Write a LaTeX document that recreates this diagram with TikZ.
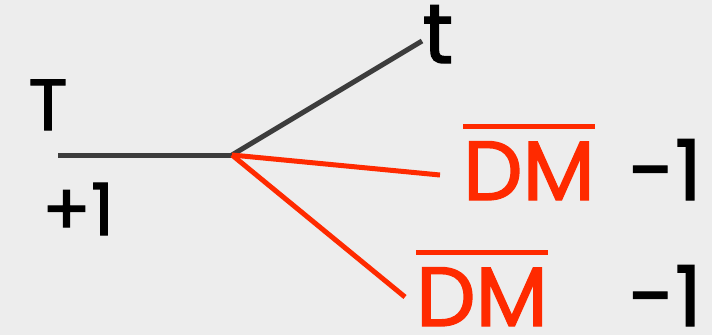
\documentclass[tikz,border=0pt]{standalone}
\usepackage{fontspec}
\setmainfont{Poppins}
\newfontface\chalk{Poppins}[FakeBold=1.6]
\usetikzlibrary{positioning}
\definecolor{paper}{HTML}{EDEDED}
\definecolor{ink}{HTML}{3C3C3C}
\definecolor{dmred}{HTML}{FF2A00}
% bar over a label
\newcommand{\barover}[1]{\setbox0\hbox{#1}\rlap{\rule[\dimexpr\ht0+12pt\relax]{\wd0}{5pt}}\box0}

\begin{document}
\begin{tikzpicture}[
    x=1pt, y=-1pt,
    lbl/.style={inner sep=0pt, font=\fontsize{72}{72}\chalk},
    big/.style={inner sep=0pt, font=\fontsize{84}{84}\chalk},
    sm/.style={line width=5pt, ink},
    dmline/.style={line width=5pt, dmred}
]
\fill[paper] (0,0) rectangle (712,335);
\useasboundingbox (0,0) rectangle (712,335);

\coordinate (in) at (58,155);
\coordinate (vtx) at (232,155);
\coordinate (tend) at (422,41);
\coordinate (dmend1) at (440,175);
\coordinate (dmend2) at (405,297);

\draw[sm] (in) -- (vtx);
\draw[sm] (vtx) -- (tend);
\draw[dmline] (vtx) -- (dmend1);
\draw[dmline] (vtx) -- (dmend2);

\node[lbl, anchor=base] (T) at (48,130) {T};
\node[lbl, anchor=base] (plus) at (78,235) {+1};
\node[lbl, anchor=base, font=\fontsize{84}{84}\chalk] (t) at (438,63) {t};
\node[big, anchor=base west, text=dmred] (dm1) at (463,200) {\barover{DM}};
\node[big, anchor=base east] (q1) at (702,200) {-1};
\node[big, anchor=base west, text=dmred] (dm2) at (416,326) {\barover{DM}};
\node[big, anchor=base east] (q2) at (702,326) {-1};
\end{tikzpicture}
\end{document}
